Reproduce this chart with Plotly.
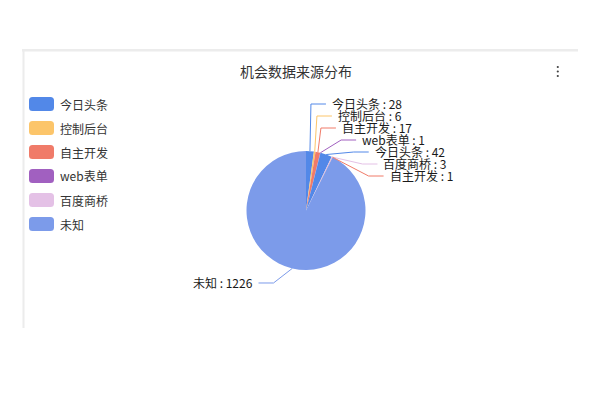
import math
import plotly.graph_objects as go

# ---------------- data ----------------
categories = ["今日头条", "控制后台", "自主开发", "web表单", "今日头条", "百度商桥", "自主开发", "未知"]
values = [28, 6, 17, 1, 42, 3, 1, 1226]
legend_names = ["今日头条", "控制后台", "自主开发", "web表单", "百度商桥", "未知"]
legend_colors = ["#5288e8", "#fcc56a", "#f07b69", "#a160c0", "#e4c1e6", "#7c9bea"]
title_text = "机会数据来源分布"

# ---------------- layout constants (pixels of the window) ----------------
W, H = 600, 400
OFF = 8.0  # default page body margin
CX, CY, R = 306.0, 210.5, 59.5
L1, L2, LDIST, LH = 15.0, 15.0, 5.0, 12.0
FONT = "Noto Sans CJK SC, Noto Sans, sans-serif"

color_of = dict(zip(legend_names, legend_colors))
slice_colors = [color_of[c] for c in categories]


def X(px):
    return (px - OFF) / W


def Y(py):
    return 1 - (py - OFF) / H


# ---------------- echarts-like outer label layout ----------------
total = float(sum(values))
items = []
cum = 0.0
for i, (name, v) in enumerate(zip(categories, values)):
    th = (cum + v / 2.0) / total * 2 * math.pi
    cum += v
    ux, uy = math.sin(th), -math.cos(th)
    d = -1 if ux < 0 else 1
    x1, y1 = CX + R * ux, CY + R * uy
    x2, y2 = CX + (R + L1) * ux, CY + (R + L1) * uy
    x3 = x2 + d * L2
    items.append(dict(i=i, d=d, x1=x1, y1=y1, x=x3 + d * LDIST, y=y2))


def adjust_side(lst, dirn, view_top=0.0, view_h=float(H)):
    lst.sort(key=lambda it: it["y"])
    n = len(lst)

    def shift_up(end, delta):
        for j in range(end, -1, -1):
            if lst[j]["y"] - delta < view_top:
                break
            lst[j]["y"] -= delta
            if j > 0 and lst[j]["y"] > lst[j - 1]["y"] + LH:
                break

    def shift_down(start, end, delta):
        for j in range(start, end):
            if lst[j]["y"] + delta > view_top + view_h:
                break
            lst[j]["y"] += delta
            if j > start and j + 1 < end and lst[j + 1]["y"] > lst[j]["y"] + LH:
                shift_up(j, delta / 2.0)
                return
        shift_up(end - 1, delta / 2.0)

    def change_x(sub, is_down):
        last = float("inf") if is_down else 0.0
        for it in sub:
            dy = abs(it["y"] - CY)
            if dy < R + L1:
                dx = math.sqrt((R + L1 + L2) ** 2 - dy * dy)
            else:
                dx = abs(it["x"] - CX)
            if is_down and dx >= last:
                dx = last - 10
            if (not is_down) and dx <= last:
                dx = last + 10
            it["x"] = CX + dx * dirn
            last = dx

    last_y = 0.0
    for k in range(n):
        delta = lst[k]["y"] - last_y
        if delta < 0:
            shift_down(k, n, -delta)
        last_y = lst[k]["y"] + LH
    if view_h - last_y < 0:
        shift_up(n - 1, last_y - view_h)
    up = [it for it in lst if it["y"] < CY]
    down = [it for it in lst if it["y"] >= CY]
    change_x(up, False)
    change_x(down, True)


right = [it for it in items if it["x"] >= CX]
left = [it for it in items if it["x"] < CX]
if len(right) > 1:
    adjust_side(right, 1)
if len(left) > 1:
    adjust_side(left, -1)
else:
    for it in left:
        dy = abs(it["y"] - CY)
        if dy < R + L1:
            it["x"] = CX - math.sqrt((R + L1 + L2) ** 2 - dy * dy)

shapes = []
annotations = []

for it in items:
    i, d = it["i"], it["d"]
    x3 = it["x"] - d * LDIST
    x2 = x3 - d * L2
    yl = it["y"]
    path = "M {:.5f} {:.5f} L {:.5f} {:.5f} L {:.5f} {:.5f}".format(
        X(it["x1"]), Y(it["y1"]), X(x2), Y(yl), X(x3), Y(yl))
    shapes.append(dict(type="path", xref="paper", yref="paper", path=path,
                       line=dict(color=slice_colors[i], width=1)))
    annotations.append(dict(
        text="{} : {}".format(categories[i], values[i]),
        x=X(it["x"]), y=Y(yl), xref="paper", yref="paper",
        xanchor="left" if d > 0 else "right", yanchor="middle",
        showarrow=False, borderpad=0,
        font=dict(family=FONT, size=12, color="#1a1a1a")))

# ---------------- card frame ----------------
shapes.append(dict(type="line", xref="paper", yref="paper",
                   x0=X(22), x1=X(578), y0=Y(50.3), y1=Y(50.3),
                   line=dict(color="#ececec", width=2.5)))
shapes.append(dict(type="line", xref="paper", yref="paper",
                   x0=X(23.5), x1=X(23.5), y0=Y(49), y1=Y(328),
                   line=dict(color="#ececec", width=2)))

# three-dot menu
for yy in (67.0, 71.5, 76.0):
    shapes.append(dict(type="circle", xref="paper", yref="paper",
                       x0=X(556.7), x1=X(558.9), y0=Y(yy - 1.1), y1=Y(yy + 1.1),
                       fillcolor="#444444", line=dict(width=0)))

# title
annotations.append(dict(text=title_text, x=X(296), y=Y(71), xref="paper", yref="paper",
                        xanchor="center", yanchor="middle", showarrow=False,
                        font=dict(family=FONT, size=14, color="#333333")))


# ---------------- legend (vertical, rounded keys) ----------------
def rrect(x0, y0, x1, y1, rad):
    pts = [
        ("M", x0 + rad, y0), ("L", x1 - rad, y0), ("Q", x1, y0, x1, y0 + rad),
        ("L", x1, y1 - rad), ("Q", x1, y1, x1 - rad, y1), ("L", x0 + rad, y1),
        ("Q", x0, y1, x0, y1 - rad), ("L", x0, y0 + rad), ("Q", x0, y0, x0 + rad, y0),
    ]
    s = []
    for p in pts:
        if p[0] == "Q":
            s.append("Q {:.5f} {:.5f} {:.5f} {:.5f}".format(X(p[1]), Y(p[2]), X(p[3]), Y(p[4])))
        else:
            s.append("{} {:.5f} {:.5f}".format(p[0], X(p[1]), Y(p[2])))
    return " ".join(s) + " Z"


LEG_X, LEG_Y, KEY_W, KEY_H, GAP = 29.0, 97.0, 25.0, 14.0, 10.0
for k, (nm, col) in enumerate(zip(legend_names, legend_colors)):
    top = LEG_Y + k * (KEY_H + GAP)
    shapes.append(dict(type="path", xref="paper", yref="paper",
                       path=rrect(LEG_X, top, LEG_X + KEY_W, top + KEY_H, 3.5),
                       fillcolor=col, line=dict(width=0)))
    annotations.append(dict(text=nm, x=X(LEG_X + KEY_W + 5), y=Y(top + KEY_H / 2),
                            xref="paper", yref="paper", xanchor="left", yanchor="middle",
                            showarrow=False, borderpad=0,
                            font=dict(family=FONT, size=12, color="#333333")))

# ---------------- pie ----------------
fig = go.Figure(go.Pie(
    values=values,
    customdata=categories,
    marker=dict(colors=slice_colors, line=dict(width=0)),
    sort=False, direction="clockwise", rotation=0,
    textinfo="none", showlegend=False,
    hovertemplate="%{customdata} : %{value} (%{percent})<extra></extra>",
    domain=dict(x=[X(CX - R), X(CX + R)], y=[Y(CY + R), Y(CY - R)]),
))

fig.update_layout(
    width=W, height=H,
    margin=dict(l=0, r=0, t=0, b=0),
    paper_bgcolor="white", plot_bgcolor="white",
    showlegend=False,
    shapes=shapes, annotations=annotations,
)

fig.write_html("out.html", config={"displayModeBar": False})
